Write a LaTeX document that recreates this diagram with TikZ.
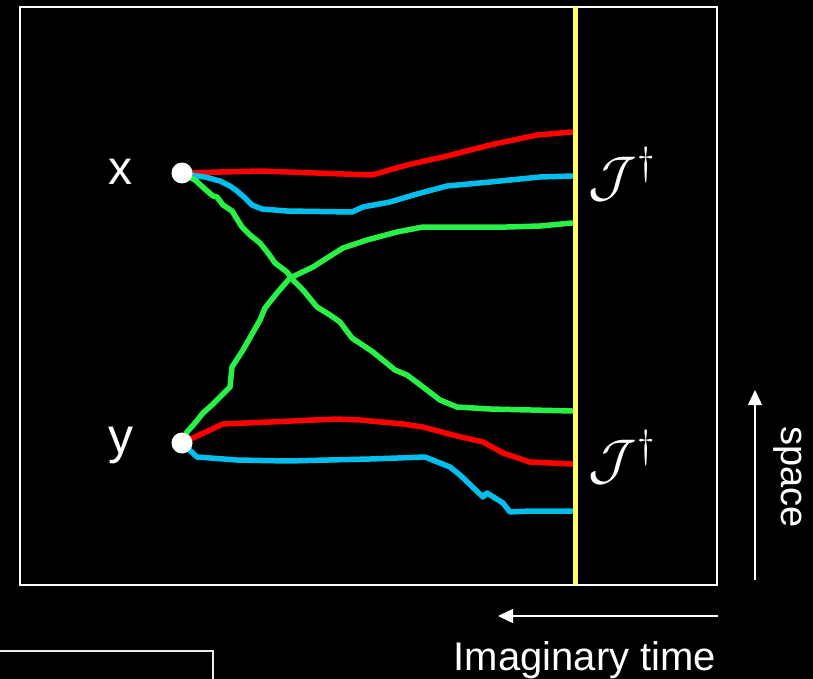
\RequirePackage{fix-cm}
\documentclass[tikz,border=0pt]{standalone}
\usepackage{fontspec}
\setmainfont{Liberation Sans}
\usetikzlibrary{arrows.meta}
\definecolor{pred}{RGB}{255,0,0}
\definecolor{pcyan}{RGB}{0,190,235}
\definecolor{pgreen}{RGB}{40,240,70}
\definecolor{pyellow}{RGB}{255,255,100}
\begin{document}
\begin{tikzpicture}[x=1pt,y=-1pt,
 worldline/.style={line width=5.5pt, line join=round, line cap=round},
 dot/.style={circle, fill=white, minimum size=21pt, inner sep=0pt},
 lbl/.style={text=white, inner sep=0pt},
 frameline/.style={draw=white, line width=1.5pt},
 axisarrow/.style={draw=white, line width=1.5pt, -{Triangle[length=15pt,width=14pt]}}]
\fill[black] (0,0) rectangle (813,679);
\useasboundingbox (0,0) rectangle (813,679);
% frames
\draw[frameline] (20,7) rectangle (717,585);
\draw[draw=white!85!gray, line width=2pt] (-5,651) -- (213,651) -- (213,685);
% end points
\coordinate (X) at (182,173);
\coordinate (Y) at (182,443);
\coordinate (rx) at (572,132);
\coordinate (cx) at (572,176);
\coordinate (gy) at (572,223);
\coordinate (gx) at (572,411);
\coordinate (ry) at (572,464);
\coordinate (cy) at (572,511);
% world lines
\draw[worldline, pred] (X) -- (260,171) -- (372,175) -- (407,165) -- (443,157) -- (490,145) -- (537,135) -- (rx);
\draw[worldline, pcyan] (X) -- (190,175) -- (205,177) -- (220,181) -- (230,186) -- (237,191) -- (245,198) -- (252,205) -- (262,209) -- (287,211) -- (352,212) -- (363,207) -- (390,202) -- (417,194) -- (447,186) -- (490,182) -- (540,177) -- (cx);
\draw[worldline, pgreen] (X) -- (195,180) -- (206,190) -- (213,196) -- (217,197) -- (223,205) -- (232,211) -- (242,227) -- (250,235) -- (260,243) -- (268,253) -- (275,263) -- (287,272) -- (293,280) -- (303,290) -- (317,307) -- (330,315) -- (340,322) -- (352,338) -- (373,352) -- (395,370) -- (407,375) -- (423,387) -- (440,400) -- (457,407) -- (490,409) -- (gx);
\draw[worldline, pgreen] (Y) -- (187,432) -- (195,423) -- (203,413) -- (212,405) -- (230,387) -- (232,367) -- (243,350) -- (260,320) -- (265,308) -- (277,293) -- (290,278) -- (313,267) -- (327,258) -- (343,248) -- (367,240) -- (397,232) -- (423,227) -- (507,227) -- (540,226) -- (gy);
\draw[worldline, pred] (Y) -- (223,424) -- (270,422) -- (337,419) -- (360,420) -- (403,424) -- (423,427) -- (453,435) -- (483,442) -- (503,453) -- (530,462) -- (ry);
\draw[worldline, pcyan] (Y) -- (197,457) -- (237,460) -- (287,461) -- (370,459) -- (425,457) -- (450,467) -- (460,475) -- (483,497) -- (487,493) -- (503,503) -- (510,512) -- (530,511) -- (cy);
% horizon
\coordinate (yt) at (575,6);
\coordinate (yb) at (575,585);
\draw[draw=pyellow, line width=5pt] (yt) -- (yb);
% points
\node[dot] (px) at (X) {};
\node[dot] (py) at (Y) {};
% labels
\node[lbl, anchor=base, font=\fontsize{48}{52}\selectfont] (lx) at (120,185) {x};
\node[lbl, anchor=base, font=\fontsize{50}{54}\selectfont] (ly) at (121,453) {y};
\node[lbl, font=\fontsize{56}{60}\selectfont] (j1) at (622,174) {$\mathcal{J}^{\dagger}$};
\node[lbl, font=\fontsize{56}{60}\selectfont] (j2) at (622,457) {$\mathcal{J}^{\dagger}$};
% axes
\coordinate (sb) at (755,580);
\coordinate (st) at (755,390);
\draw[axisarrow] (sb) -- (st);
\node[lbl, rotate=-90, font=\fontsize{38}{42}\selectfont] (sp) at (788,477) {space};
\coordinate (tb) at (718,616);
\coordinate (tt) at (498,616);
\draw[axisarrow] (tb) -- (tt);
\node[lbl, anchor=base, font=\fontsize{40}{44}\selectfont] (it) at (585,670) {Imaginary time};
\end{tikzpicture}
\end{document}
